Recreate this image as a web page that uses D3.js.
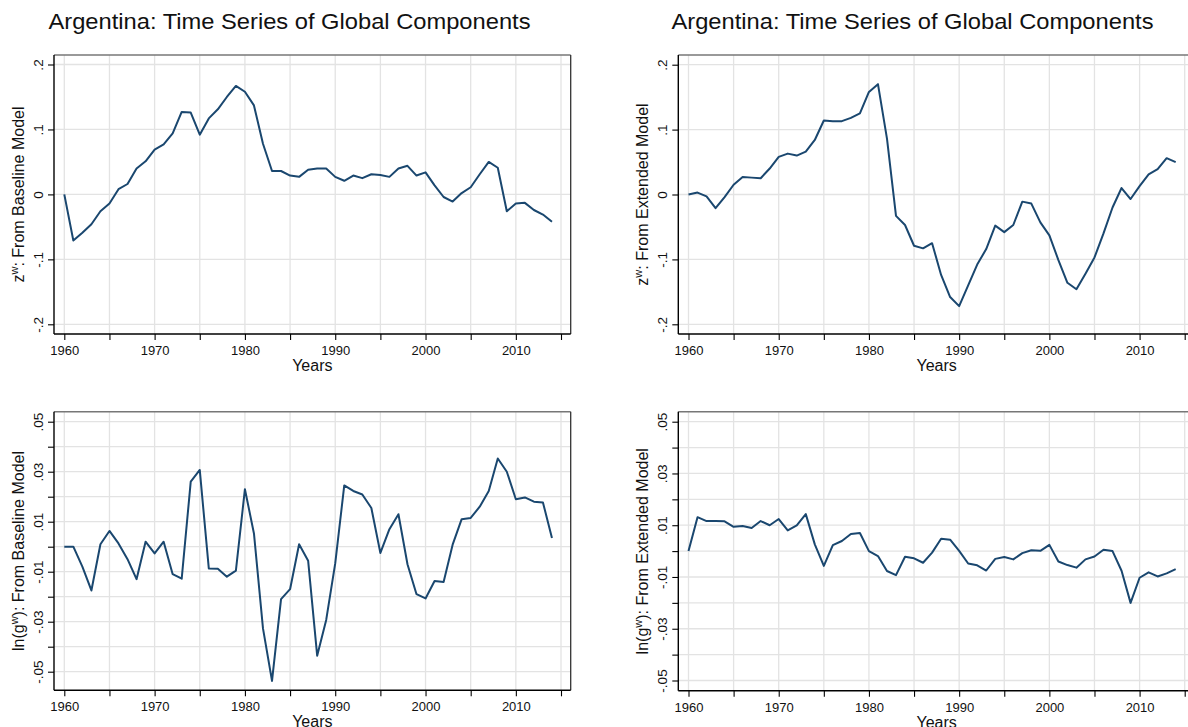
<!DOCTYPE html>
<html>
<head>
<meta charset="utf-8">
<script src="https://cdn.jsdelivr.net/npm/d3@7"></script>
<style>
  html, body { margin: 0; padding: 0; background: #fff; }
  svg { display: block; font-family: "Liberation Sans", Arial, Helvetica, sans-serif; }
</style>
</head>
<body>
<svg id="chart" width="1188" height="727"></svg>
<script>
// ---------------- DATA ----------------
const years = d3.range(1960, 2015);

const zBaseline = [
  0.000, -0.071, -0.059, -0.046, -0.026, -0.014, 0.008, 0.016, 0.040, 0.051,
  0.069, 0.077, 0.094, 0.127, 0.126, 0.092, 0.117, 0.131, 0.150, 0.167,
  0.158, 0.137, 0.078, 0.036, 0.036, 0.029, 0.027, 0.038, 0.040, 0.040,
  0.027, 0.021, 0.029, 0.025, 0.031, 0.030, 0.027, 0.040, 0.044, 0.029,
  0.034, 0.014, -0.004, -0.011, 0.002, 0.011, 0.031, 0.050, 0.041, -0.026,
  -0.014, -0.013, -0.024, -0.031, -0.042
];

const zExtended = [
  0.000, 0.003, -0.003, -0.021, -0.004, 0.015, 0.027, 0.026, 0.025, 0.040,
  0.058, 0.063, 0.060, 0.066, 0.084, 0.114, 0.113, 0.113, 0.118, 0.125,
  0.158, 0.170, 0.086, -0.033, -0.047, -0.079, -0.083, -0.075, -0.124, -0.158,
  -0.172, -0.140, -0.108, -0.084, -0.048, -0.058, -0.047, -0.011, -0.014, -0.043,
  -0.063, -0.101, -0.136, -0.146, -0.122, -0.097, -0.060, -0.020, 0.010, -0.007,
  0.013, 0.031, 0.039, 0.056, 0.050
];

const gBaseline = [
  0.0000, 0.0000, -0.0080, -0.0175, 0.0010, 0.0063, 0.0013, -0.0050, -0.0130, 0.0020,
  -0.0027, 0.0020, -0.0110, -0.0128, 0.0260, 0.0307, -0.0087, -0.0088, -0.0120, -0.0096,
  0.0230, 0.0053, -0.0327, -0.0537, -0.0210, -0.0170, 0.0010, -0.0056, -0.0436, -0.0293,
  -0.0067, 0.0245, 0.0223, 0.0209, 0.0155, -0.0025, 0.0070, 0.0130, -0.0070, -0.0190,
  -0.0207, -0.0137, -0.0141, 0.0008, 0.0110, 0.0115, 0.0160, 0.0223, 0.0353, 0.0300,
  0.0190, 0.0197, 0.0180, 0.0177, 0.0035
];

const gExtended = [
  0.0000, 0.0131, 0.0116, 0.0116, 0.0115, 0.0094, 0.0097, 0.0089, 0.0116, 0.0100,
  0.0124, 0.0080, 0.0099, 0.0143, 0.0026, -0.0057, 0.0023, 0.0039, 0.0066, 0.0070,
  0.0000, -0.0019, -0.0077, -0.0093, -0.0022, -0.0028, -0.0045, -0.0006, 0.0048, 0.0044,
  0.0001, -0.0048, -0.0055, -0.0075, -0.0030, -0.0023, -0.0032, -0.0008, 0.0003, 0.0001,
  0.0024, -0.0040, -0.0054, -0.0064, -0.0032, -0.0021, 0.0005, 0.0000, -0.0076, -0.0200,
  -0.0103, -0.0082, -0.0098, -0.0086, -0.0070
];

const xTicks = d3.range(1960, 2016, 5);
const xTickLabels = [1960, 1970, 1980, 1990, 2000, 2010];

const zTicks = [-0.2, -0.1, 0, 0.1, 0.2];
const zTickLabels = ["-.2", "-.1", "0", ".1", ".2"];
const gTicks = [-0.05, -0.04, -0.03, -0.02, -0.01, 0, 0.01, 0.02, 0.03, 0.04, 0.05];
const gTickLabels = { "-0.05": "-.05", "-0.03": "-.03", "-0.01": "-.01", "0.01": ".01", "0.03": ".03", "0.05": ".05" };

const titleText = "Argentina: Time Series of Global Components";
const xTitle = "Years";

// ---------------- LAYOUT ----------------
const svg = d3.select("#chart");
const lineColor = "#1a476f";
const gridColor = "#e3e3e3";
const FONT = "'Liberation Sans', Arial, Helvetica, sans-serif";

const panels = [
  { values: zBaseline, ticks: zTicks, labelFn: v => zTickLabels[zTicks.indexOf(v)],
    pre: "z", sup: "w", post: ": From Baseline Model",
    frame: { left: 54, right: 570.7, top: 55, bottom: 334 },
    px1960: 64.3, px2015: 561.0, yMaxPx: 64.5, yMinPx: 324.3 },
  { values: zExtended, ticks: zTicks, labelFn: v => zTickLabels[zTicks.indexOf(v)],
    pre: "z", sup: "w", post: ": From Extended Model",
    frame: { left: 678.3, right: 1195, top: 55, bottom: 334 },
    px1960: 688.5, px2015: 1184.7, yMaxPx: 64.7, yMinPx: 324.3 },
  { values: gBaseline, ticks: gTicks, labelFn: v => gTickLabels[String(+v.toFixed(2))],
    pre: "ln(g", sup: "w", post: "): From Baseline Model",
    frame: { left: 54, right: 570.7, top: 411.7, bottom: 690.3 },
    px1960: 64.3, px2015: 561.0, yMaxPx: 421.7, yMinPx: 671.7 },
  { values: gExtended, ticks: gTicks, labelFn: v => gTickLabels[String(+v.toFixed(2))],
    pre: "ln(g", sup: "w", post: "): From Extended Model",
    frame: { left: 678.3, right: 1195, top: 411.7, bottom: 690.8 },
    px1960: 688.5, px2015: 1184.7, yMaxPx: 421.7, yMinPx: 680.5 }
];

// Titles
[289.5, 912.5].forEach(cx => {
  svg.append("text")
    .attr("x", cx).attr("y", 28.5)
    .attr("text-anchor", "middle")
    .attr("font-size", 22)
    .attr("textLength", 482)
    .attr("lengthAdjust", "spacingAndGlyphs")
    .attr("fill", "#111")
    .text(titleText);
});

panels.forEach(p => {
  const f = p.frame;
  const x = d3.scaleLinear().domain([1960, 2015]).range([p.px1960, p.px2015]);
  const y = d3.scaleLinear().domain(d3.extent(p.ticks)).range([p.yMinPx, p.yMaxPx]);

  const g = svg.append("g");

  // gridlines
  g.selectAll(".hg").data(p.ticks).enter().append("line")
    .attr("x1", f.left).attr("x2", f.right)
    .attr("y1", d => y(d)).attr("y2", d => y(d))
    .attr("stroke", gridColor).attr("stroke-width", 1.3);
  g.selectAll(".vg").data(xTicks).enter().append("line")
    .attr("x1", d => x(d)).attr("x2", d => x(d))
    .attr("y1", f.top).attr("y2", f.bottom)
    .attr("stroke", gridColor).attr("stroke-width", 1.3);

  // top & right frame
  g.append("line").attr("x1", f.left).attr("x2", f.right).attr("y1", f.top).attr("y2", f.top)
    .attr("stroke", "#777").attr("stroke-width", 1.6);
  g.append("line").attr("x1", f.right).attr("x2", f.right).attr("y1", f.top).attr("y2", f.bottom)
    .attr("stroke", "#333").attr("stroke-width", 1.3);

  // x axis
  const xAxis = d3.axisBottom(x).tickValues(xTicks).tickSize(6).tickPadding(4)
    .tickFormat(d => xTickLabels.includes(d) ? String(d) : "");
  const xa = g.append("g").attr("transform", `translate(0,${f.bottom})`).call(xAxis);
  xa.select(".domain").remove();
  xa.append("line").attr("x1", f.left).attr("x2", f.right).attr("y1", 0).attr("y2", 0)
    .attr("stroke", "#000").attr("stroke-width", 1.4);
  xa.selectAll(".tick line").attr("stroke", "#000").attr("stroke-width", 1.1);
  xa.selectAll(".tick text").attr("font-size", 13).attr("fill", "#111")
    .attr("font-family", FONT)
    .attr("dy", null).attr("y", 21);

  // y axis
  const yAxis = d3.axisLeft(y).tickValues(p.ticks).tickSize(6).tickFormat(() => "");
  const ya = g.append("g").attr("transform", `translate(${f.left},0)`).call(yAxis);
  ya.select(".domain").remove();
  ya.append("line").attr("x1", 0).attr("x2", 0).attr("y1", f.top).attr("y2", f.bottom)
    .attr("stroke", "#000").attr("stroke-width", 1.4);
  ya.selectAll(".tick line").attr("stroke", "#000").attr("stroke-width", 1.1);
  ya.selectAll(".tick").each(function(d) {
    const lbl = p.labelFn(d);
    if (!lbl) return;
    d3.select(this).append("text")
      .attr("transform", "translate(-11,0) rotate(-90)")
      .attr("text-anchor", "middle")
      .attr("font-size", 13.5)
      .attr("fill", "#111")
      .attr("font-family", FONT)
      .text(lbl);
  });

  // x title
  g.append("text")
    .attr("x", f.left + 258.3)
    .attr("y", f.bottom + 37)
    .attr("text-anchor", "middle")
    .attr("font-size", 16).attr("fill", "#111")
    .text(xTitle);

  // y title
  const cy = (f.top + f.bottom) / 2;
  const yt = g.append("text")
    .attr("transform", `translate(${f.left - 30},${cy}) rotate(-90)`)
    .attr("text-anchor", "middle")
    .attr("font-size", 16).attr("fill", "#111");
  yt.append("tspan").text(p.pre);
  yt.append("tspan").attr("dy", -6).attr("font-size", 11).text(p.sup);
  yt.append("tspan").attr("dy", 6).text(p.post);

  // line
  const line = d3.line().x((d, i) => x(years[i])).y(d => y(d));
  g.append("path").datum(p.values)
    .attr("d", line)
    .attr("fill", "none")
    .attr("stroke", lineColor)
    .attr("stroke-width", 2)
    .attr("stroke-linejoin", "round");
});
</script>
</body>
</html>
